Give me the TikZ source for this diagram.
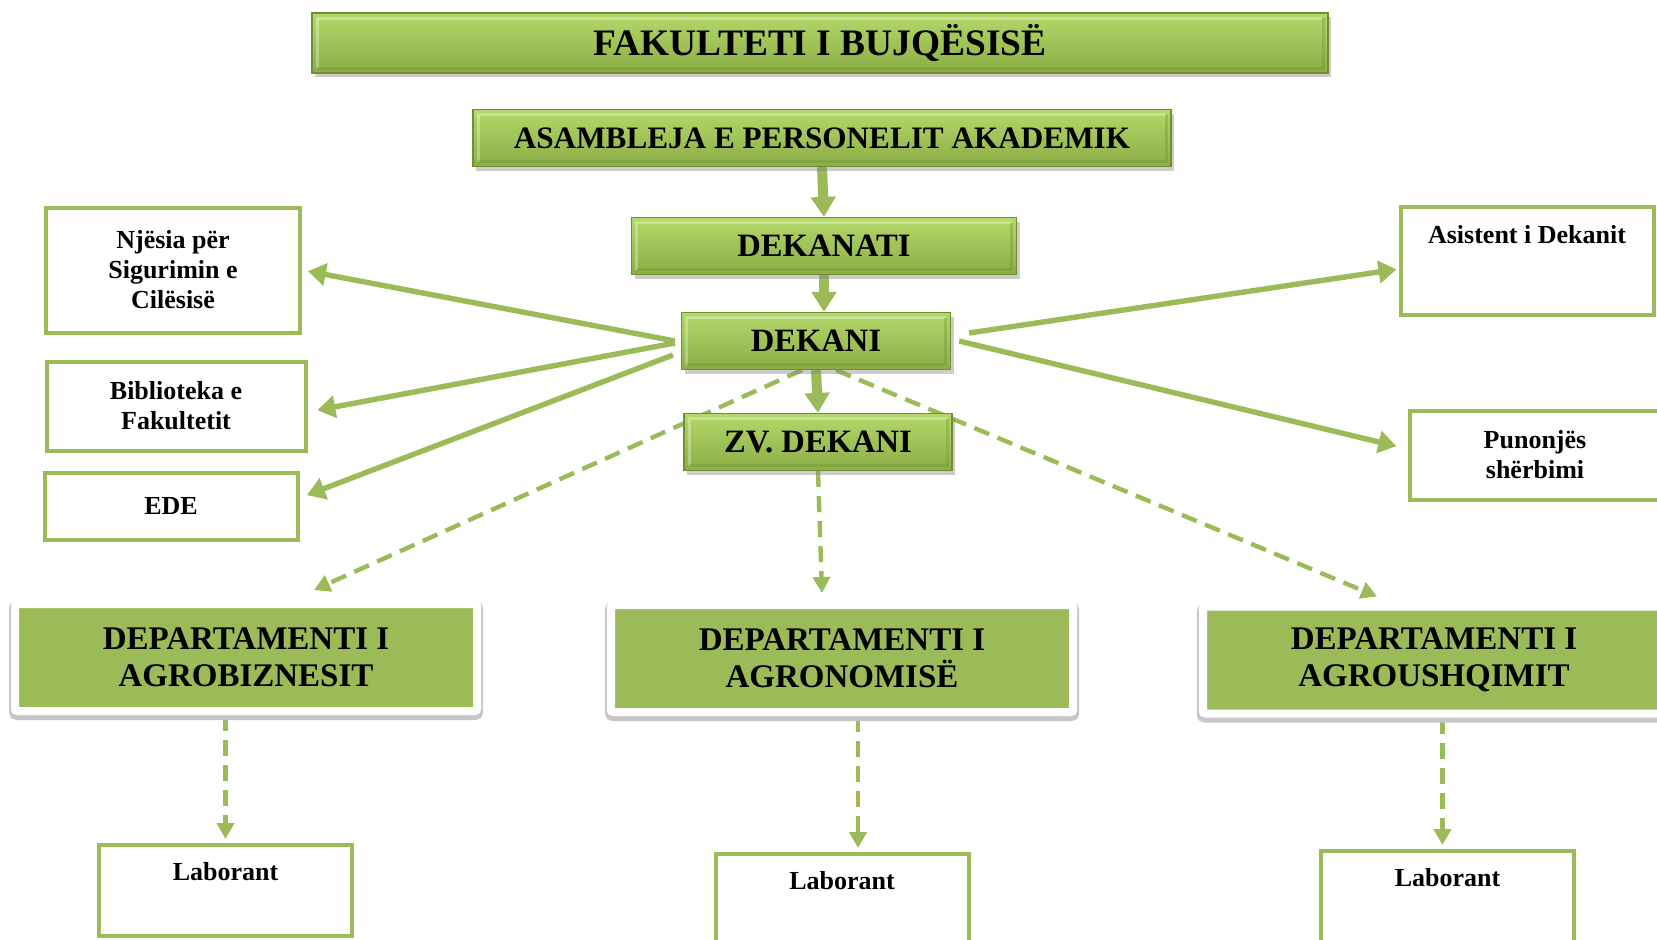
\documentclass[tikz,border=0pt]{standalone}
\usepackage{fontspec}
\setmainfont{Liberation Serif}
\usetikzlibrary{arrows.meta,shadows,backgrounds}

\definecolor{bujgreen}{HTML}{9BBB59}
\definecolor{bujlight}{HTML}{B5D86A}
\definecolor{bujdark}{HTML}{8AAE45}
\definecolor{bujedge}{HTML}{6F8F33}

\tikzset{
  bevelbox/.style={draw=bujedge, line width=0.6pt, top color=bujlight,
    bottom color=bujdark, inner sep=0pt, minimum height=28.5pt,
    drop shadow={opacity=0.4, shadow xshift=1.5pt, shadow yshift=-2pt},
    path picture={
      \draw[white, opacity=0.3, line width=1.5pt]
        ([shift={(2.5pt,2.5pt)}]path picture bounding box.south west) |-
        ([shift={(-2.5pt,-2.5pt)}]path picture bounding box.north east);
      \draw[bujedge, opacity=0.35, line width=1.5pt]
        ([shift={(2.5pt,2.5pt)}]path picture bounding box.south west) -|
        ([shift={(-2.5pt,-2.5pt)}]path picture bounding box.north east);
    },
    font=\bfseries\fontsize{16.3}{19}\selectfont},
  framebox/.style={draw=bujgreen, line width=2pt, fill=white, inner sep=0pt,
    align=center, font=\bfseries\fontsize{13}{15}\selectfont},
  deptbox/.style={draw=white, line width=4pt, fill=bujgreen, rounded corners=1pt,
    minimum width=231pt, minimum height=53.5pt, inner sep=0pt, align=center,
    preaction={draw=black!22, line width=6pt, transform canvas={yshift=-1.5pt}},
    font=\bfseries\fontsize{16.5}{18.5}\selectfont},
  solidarrow/.style={draw=bujgreen, line width=2.7pt,
    -{Triangle[length=9pt,width=11pt]}},
  bigarrow/.style={draw=bujgreen, line width=5pt,
    -{Triangle[length=10pt,width=12pt]}},
  dasharrow/.style={draw=bujgreen, line width=2.2pt, dash pattern=on 8pt off 4.5pt,
    -{Triangle[length=8pt,width=8.5pt]}}
}

\begin{document}
\begin{tikzpicture}[x=0.5pt,y=-0.5pt]
  \useasboundingbox (0,0) rectangle (1657,939);

  % top of the faculty
  \node[bevelbox, minimum width=508pt, minimum height=30pt,
        font=\bfseries\fontsize{18.7}{21}\selectfont] (fak) at (820,43) {FAKULTETI I BUJQËSISË};
  \node[bevelbox, minimum width=349pt, font=\bfseries\fontsize{15.6}{18}\selectfont] (asm)
    at (822,138) {ASAMBLEJA E PERSONELIT AKADEMIK};
  \node[bevelbox, minimum width=192.5pt] (dknt) at (824,246) {DEKANATI};
  \node[bevelbox, minimum width=134.5pt] (dkn) at (816,341) {DEKANI};
  \node[bevelbox, minimum width=134pt] (zv) at (818,442) {ZV. DEKANI};

  % units beside the dean
  \node[framebox, minimum width=127pt, minimum height=62.5pt] (njs) at (173,270)
    {Njësia për\\Sigurimin e\\Cilësisë};
  \node[framebox, minimum width=129.5pt, minimum height=44.5pt] (bib) at (176,406)
    {Biblioteka e\\Fakultetit};
  \node[framebox, minimum width=126.5pt, minimum height=33.5pt] (ede) at (171,506) {EDE};
  \node[framebox, minimum width=126.5pt, text height=18pt, text depth=36pt] (ast)
    at (1527,261) {Asistent i Dekanit};
  \node[framebox, minimum width=125pt, minimum height=44.5pt] (pun) at (1535,455)
    {Punonjës\\shërbimi};

  % departments
  \node[deptbox] (dep1) at (246,657.5) {DEPARTAMENTI I\\AGROBIZNESIT};
  \node[deptbox] (dep2) at (842,658.5) {DEPARTAMENTI I\\AGRONOMISË};
  \node[deptbox] (dep3) at (1434,660) {DEPARTAMENTI I\\AGROUSHQIMIT};

  % labs
  \node[framebox, minimum width=126.5pt, text height=17.5pt, text depth=28pt] (lab1)
    at (225.5,890.5) {Laborant};
  \node[framebox, minimum width=126.5pt, text height=17.5pt, text depth=28pt] (lab2)
    at (842,899.5) {Laborant};
  \node[framebox, minimum width=126.5pt, text height=17.5pt, text depth=28pt] (lab3)
    at (1447.5,896.5) {Laborant};

  \begin{scope}[on background layer]
    \draw[bigarrow] (asm.south) -- (dknt.north);
    \draw[bigarrow] (dknt.south) -- (dknt.south |- dkn.north);
    \draw[bigarrow] (dkn.south) -- (zv.north);

    \draw[solidarrow, shorten >=3pt] ([xshift=-3pt]dkn.west) -- (njs.east);
    \draw[solidarrow, shorten >=5pt] ([xshift=-3pt,yshift=-1pt]dkn.west) -- ([yshift=-3pt]bib.east);
    \draw[solidarrow, shorten >=4pt] ([xshift=-4pt,yshift=-7pt]dkn.west) -- ([yshift=4pt]ede.east);
    \draw[solidarrow, shorten >=1pt] ([xshift=9pt,yshift=4pt]dkn.east) -- ([yshift=-4pt]ast.west);
    \draw[solidarrow, shorten >=6pt] ([xshift=4pt]dkn.east) -- ([yshift=3pt]pun.west);

    \draw[dasharrow] ([xshift=-7pt]dkn.south) -- ([xshift=34pt,yshift=5pt]dep1.north);
    \draw[dasharrow] ([xshift=10pt]dkn.south) -- ([xshift=-28.5pt,yshift=3pt]dep3.north);
    \draw[dasharrow] (zv.south) -- ([xshift=-10pt,yshift=4pt]dep2.north);

    \draw[dasharrow, shorten >=2pt] (lab1.north |- dep1.south) -- (lab1.north);
    \draw[dasharrow, shorten >=2pt] ([xshift=8pt]dep2.south) -- ([xshift=8pt]lab2.north);
    \draw[dasharrow, shorten >=2pt] ([xshift=-2.5pt]lab3.north |- dep3.south) -- ([xshift=-2.5pt]lab3.north);
  \end{scope}
\end{tikzpicture}
\end{document}
